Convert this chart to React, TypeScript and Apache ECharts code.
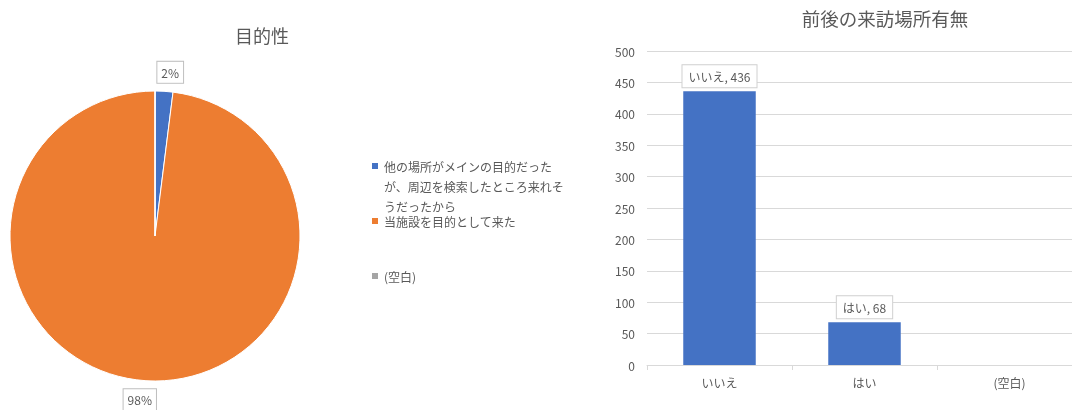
import React, { useEffect, useRef } from "react";
import * as echarts from "echarts";

const pieTitle = "目的性";
const pieCategories = [
  "他の場所がメインの目的だったが、周辺を検索したところ来れそうだったから",
  "当施設を目的として来た",
  "(空白)",
];
const pieValues = [10, 494, 0];
const pieColors = ["#4472C4", "#ED7D31", "#A5A5A5"];
const pieLegendLines = [
  ["他の場所がメインの目的だった", "が、周辺を検索したところ来れそ", "うだったから"],
  ["当施設を目的として来た"],
  ["(空白)"],
];

const barTitle = "前後の来訪場所有無";
const barCategories = ["いいえ", "はい", "(空白)"];
const barValues: (number | null)[] = [436, 68, null];
const yTicks = { min: 0, max: 500, interval: 50 };

const FONT = "'Noto Sans CJK JP', 'Noto Sans', sans-serif";
const GRAY = "#595959";

export default function App() {
  const ref = useRef<HTMLDivElement>(null);

  useEffect(() => {
    document.body.style.margin = "0";
    document.body.style.overflow = "hidden";
    if (!ref.current) return;
    const chart = echarts.init(ref.current, undefined, { renderer: "svg" });

    const legendTops = [156, 211, 266];
    const legends = pieCategories.map((name, i) => ({
      data: [name],
      orient: "vertical",
      left: 370,
      top: legendTops[i],
      padding: 0,
      selectedMode: false,
      icon: i === 0 ? "path://M0,0L8,0L8,8L0,8Z M0,48L0.001,48L0.001,48.001Z" : "rect",
      itemWidth: 8,
      itemHeight: i === 0 ? 48 : 8,
      itemGap: 0,
      formatter: () => pieLegendLines[i].join("\n"),
      textStyle: { fontSize: 12, color: GRAY, lineHeight: 20, fontFamily: FONT },
    }));

    chart.setOption({
      animation: false,
      textStyle: { fontFamily: FONT },
      title: [
        {
          text: pieTitle,
          left: 262,
          top: 26,
          padding: 0,
          textAlign: "center",
          textStyle: { fontSize: 18, fontWeight: "normal", color: GRAY, fontFamily: FONT },
        },
        {
          text: barTitle,
          left: 885,
          top: 9,
          padding: 0,
          textAlign: "center",
          textStyle: { fontSize: 18.5, fontWeight: "normal", color: GRAY, fontFamily: FONT },
        },
      ],
      legend: legends,
      grid: { left: 647, top: 51, right: 0, bottom: 45, containLabel: false },
      xAxis: {
        type: "category",
        data: barCategories,
        axisLine: { lineStyle: { color: "#D9D9D9" } },
        axisTick: { show: true, length: 5, lineStyle: { color: "#D9D9D9" } },
        axisLabel: { fontSize: 12, color: GRAY, margin: 11, fontFamily: FONT },
      },
      yAxis: {
        type: "value",
        min: yTicks.min,
        max: yTicks.max,
        interval: yTicks.interval,
        axisLine: { show: false },
        axisTick: { show: false },
        axisLabel: { fontSize: 12, color: GRAY, margin: 12, fontFamily: FONT },
        splitLine: { lineStyle: { color: "#D9D9D9" } },
      },
      series: [
        {
          type: "pie",
          center: [155, 236],
          radius: 145,
          startAngle: 90,
          clockwise: true,
          percentPrecision: 0,
          legendHoverLink: false,
          itemStyle: { borderColor: "#fff", borderWidth: 1 },
          label: {
            show: true,
            position: "outside",
            formatter: "{d}%",
            fontSize: 12,
            color: GRAY,
            backgroundColor: "#fff",
            borderColor: "#BFBFBF",
            borderWidth: 1,
            padding: [5, 4, 4, 4],
            fontFamily: FONT,
          },
          labelLine: { show: false, length: 19, length2: 0 },
          labelLayout: () => ({ align: "center", verticalAlign: "middle" }),
          data: pieCategories.map((name, i) => ({
            name,
            value: pieValues[i],
            itemStyle: { color: pieColors[i] },
            label: { show: pieValues[i] > 0 },
          })),
        },
        {
          type: "bar",
          data: barValues,
          barWidth: "50%",
          itemStyle: { color: "#4472C4" },
          label: {
            show: true,
            position: "top",
            distance: 4,
            formatter: "{b}, {c}",
            fontSize: 12,
            color: GRAY,
            backgroundColor: "#fff",
            borderColor: "#D0D0D0",
            borderWidth: 1,
            padding: [5, 6, 5, 6],
            fontFamily: FONT,
          },
        },
      ],
    });

    return () => chart.dispose();
  }, []);

  return (
    <div
      ref={ref}
      style={{ position: "fixed", left: 0, top: 0, width: 1082, height: 410 }}
    />
  );
}
